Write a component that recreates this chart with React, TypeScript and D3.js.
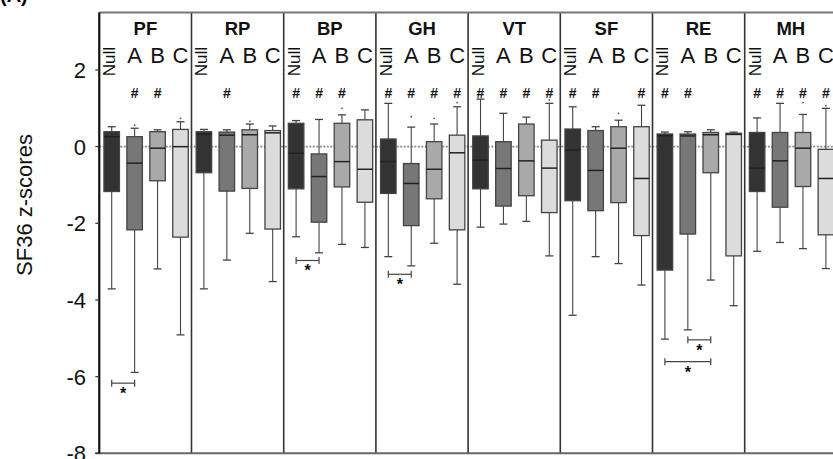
import React from 'react';
import * as d3 from 'd3';

// SF36 dimensions and groups
const dims = ['PF', 'RP', 'BP', 'GH', 'VT', 'SF', 'RE', 'MH'];
const groups = ['Null', 'A', 'B', 'C'];
const yTicks = [2, 0, -2, -4, -6, -8];

// box stats per dimension, one value per group (Null, A, B, C)
const whiskerLow = [
  [-3.71, -5.89, -3.19, -4.91],
  [-3.71, -2.96, -2.26, -3.52],
  [-2.35, -2.77, -2.55, -2.63],
  [-2.87, -3.11, -2.52, -3.59],
  [-2.1, -2.02, -1.95, -2.85],
  [-4.4, -2.87, -3.05, -3.61],
  [-5.02, -4.78, -3.48, -4.15],
  [-2.73, -2.5, -2.66, -3.18],
];
const q1 = [
  [-1.17, -2.17, -0.89, -2.36],
  [-0.68, -1.16, -1.09, -2.15],
  [-1.1, -1.97, -1.05, -1.45],
  [-1.22, -2.06, -1.36, -2.17],
  [-1.1, -1.55, -1.28, -1.72],
  [-1.41, -1.67, -1.46, -2.32],
  [-3.22, -2.28, -0.68, -2.85],
  [-1.17, -1.58, -1.04, -2.3],
];
const median = [
  [0.26, -0.43, -0.04, 0.0],
  [0.33, 0.3, 0.31, 0.36],
  [-0.17, -0.78, -0.39, -0.59],
  [-0.39, -0.96, -0.59, -0.16],
  [-0.35, -0.57, -0.37, -0.56],
  [-0.09, -0.62, -0.04, -0.83],
  [0.29, 0.28, 0.31, 0.32],
  [-0.56, -0.37, -0.04, -0.83],
];
const q3 = [
  [0.39, 0.26, 0.39, 0.45],
  [0.39, 0.38, 0.44, 0.42],
  [0.61, -0.19, 0.61, 0.7],
  [0.2, -0.44, 0.13, 0.3],
  [0.28, 0.13, 0.59, 0.17],
  [0.46, 0.42, 0.52, 0.52],
  [0.33, 0.33, 0.37, 0.35],
  [0.37, 0.37, 0.37, -0.07],
];
const whiskerHigh = [
  [0.52, 0.48, 0.44, 0.65],
  [0.45, 0.44, 0.59, 0.54],
  [0.68, 0.71, 0.83, 0.96],
  [1.13, 0.51, 0.59, 1.04],
  [1.24, 0.87, 0.77, 1.13],
  [1.04, 0.52, 0.69, 1.08],
  [0.38, 0.39, 0.44, 0.38],
  [0.75, 1.13, 0.84, 1.0],
];
// small outlier dots above whiskers
const outliers = [
  { dim: 'PF', group: 'A', v: 0.56 },
  { dim: 'PF', group: 'C', v: 0.74 },
  { dim: 'RP', group: 'B', v: 0.66 },
  { dim: 'BP', group: 'B', v: 1.0 },
  { dim: 'GH', group: 'A', v: 0.78 },
  { dim: 'GH', group: 'B', v: 0.74 },
  { dim: 'GH', group: 'C', v: 1.15 },
  { dim: 'VT', group: 'C', v: 1.22 },
  { dim: 'SF', group: 'B', v: 0.87 },
  { dim: 'MH', group: 'B', v: 1.15 },
  { dim: 'MH', group: 'C', v: 1.07 },
];
// '#' markers per dimension
const hashMarks = [
  ['A', 'B'],
  ['A'],
  ['Null', 'A', 'B'],
  ['Null', 'A', 'B', 'C'],
  ['Null', 'A', 'B', 'C'],
  ['Null', 'A', 'C'],
  ['Null', 'A'],
  ['Null', 'A', 'B', 'C'],
];
// significance brackets
const brackets = [
  { dim: 'PF', from: 'Null', to: 'A', v: -6.17 },
  { dim: 'BP', from: 'Null', to: 'A', v: -2.97 },
  { dim: 'GH', from: 'Null', to: 'A', v: -3.33 },
  { dim: 'RE', from: 'A', to: 'B', v: -5.04 },
  { dim: 'RE', from: 'Null', to: 'B', v: -5.61 },
];

const fills = ['#333333', '#777777', '#a9a9a9', '#dcdcdc'];
const FONT = '"Liberation Sans", Arial, sans-serif';

export default function App() {
  const width = 833;
  const height = 459;
  const left = 99.3;
  const panelW = 92.2;

  const y = d3.scaleLinear().domain([-8, 3.5]).range([453.3, 12.5]);
  const xPanel = d3.scaleBand<string>().domain(dims).range([left, left + panelW * dims.length]);
  const xGroup = d3.scalePoint<string>().domain(groups).range([12.4, 81.2]);
  const boxW = 15.5;
  const capW = 8;

  const cx = (dim: string, g: string) => (xPanel(dim) as number) + (xGroup(g) as number);

  return (
    <svg width={width} height={height} style={{ position: 'absolute', left: 0, top: 0, background: '#fff' }} fontFamily={FONT}>
      <rect width={width} height={height} fill="#fff" />
      <text x={0} y={2} fontSize={20} fontWeight="bold">(A)</text>

      {/* y axis label */}
      <text transform={`translate(32,205) rotate(-90)`} textAnchor="middle" fontSize={22} fill="#111">SF36 z-scores</text>

      {/* zero reference line */}
      <line x1={left} x2={width} y1={y(0)} y2={y(0)} stroke="#888" strokeWidth={1.6} strokeDasharray="2,1.5" />

      {/* boxes */}
      {dims.map((dim, di) => (
        <g key={dim}>
          {groups.map((g, gi) => {
            const x = cx(dim, g);
            return (
              <g key={g}>
                <line x1={x} x2={x} y1={y(whiskerHigh[di][gi])} y2={y(q3[di][gi])} stroke="#444" strokeWidth={1.1} />
                <line x1={x} x2={x} y1={y(q1[di][gi])} y2={y(whiskerLow[di][gi])} stroke="#444" strokeWidth={1.1} />
                <line x1={x - capW / 2} x2={x + capW / 2} y1={y(whiskerHigh[di][gi])} y2={y(whiskerHigh[di][gi])} stroke="#444" strokeWidth={1.3} />
                <line x1={x - capW / 2} x2={x + capW / 2} y1={y(whiskerLow[di][gi])} y2={y(whiskerLow[di][gi])} stroke="#444" strokeWidth={1.3} />
                <rect
                  x={x - boxW / 2}
                  y={y(q3[di][gi])}
                  width={boxW}
                  height={y(q1[di][gi]) - y(q3[di][gi])}
                  fill={fills[gi]}
                  stroke="#444"
                  strokeWidth={1.3}
                />
                <line x1={x - boxW / 2} x2={x + boxW / 2} y1={y(median[di][gi])} y2={y(median[di][gi])} stroke="#222" strokeWidth={1.5} />
              </g>
            );
          })}
        </g>
      ))}

      {outliers.map((o, i) => (
        <circle key={i} cx={cx(o.dim, o.group)} cy={y(o.v)} r={0.9} fill="#555" />
      ))}

      {/* panel dividers */}
      {dims.map((dim) => (
        <line key={dim} x1={xPanel(dim)} x2={xPanel(dim)} y1={y(3.5)} y2={y(-8)} stroke="#333" strokeWidth={1.6} />
      ))}

      {/* frame */}
      <line x1={left} x2={width} y1={y(3.5)} y2={y(3.5)} stroke="#777" strokeWidth={2} />
      <line x1={left - 4} x2={width} y1={y(-8)} y2={y(-8)} stroke="#666" strokeWidth={2} />
      <line x1={left} x2={left} y1={y(3.5)} y2={y(-8)} stroke="#111" strokeWidth={2} />

      {/* y ticks */}
      {yTicks.map((t) => (
        <g key={t}>
          <line x1={left - 4} x2={left} y1={y(t)} y2={y(t)} stroke="#333" strokeWidth={1.2} />
          <text x={86} y={y(t)} dy="0.36em" textAnchor="end" fontSize={22} fill="#111">{t}</text>
        </g>
      ))}

      {/* panel titles, group labels, hash marks */}
      {dims.map((dim, di) => (
        <g key={dim}>
          <text x={(xPanel(dim) as number) + panelW / 2} y={35} textAnchor="middle" fontSize={18.5} fontWeight="bold" fill="#111">{dim}</text>
          {groups.map((g) =>
            g === 'Null' ? (
              <text key={g} transform={`translate(${cx(dim, g) + 3.5},61.7) rotate(-90)`} textAnchor="middle" fontSize={17} fill="#111">{g}</text>
            ) : (
              <text key={g} x={cx(dim, g)} y={63.3} textAnchor="middle" fontSize={22} fill="#111">{g}</text>
            )
          )}
          {hashMarks[di].map((g) => (
            <text key={g} x={cx(dim, g)} y={98} textAnchor="middle" fontSize={14} fontWeight="bold" fill="#111">#</text>
          ))}
        </g>
      ))}

      {/* significance brackets */}
      {brackets.map((b, i) => {
        const x1 = cx(b.dim, b.from);
        const x2 = cx(b.dim, b.to);
        const yy = y(b.v);
        return (
          <g key={i} stroke="#444" strokeWidth={1.2}>
            <line x1={x1} x2={x2} y1={yy} y2={yy} />
            <line x1={x1} x2={x1} y1={yy - 3.5} y2={yy + 3.5} />
            <line x1={x2} x2={x2} y1={yy - 3.5} y2={yy + 3.5} />
            <text x={(x1 + x2) / 2} y={yy + 16} textAnchor="middle" fontSize={16} fontWeight="bold" fill="#111" stroke="none">*</text>
          </g>
        );
      })}
    </svg>
  );
}
